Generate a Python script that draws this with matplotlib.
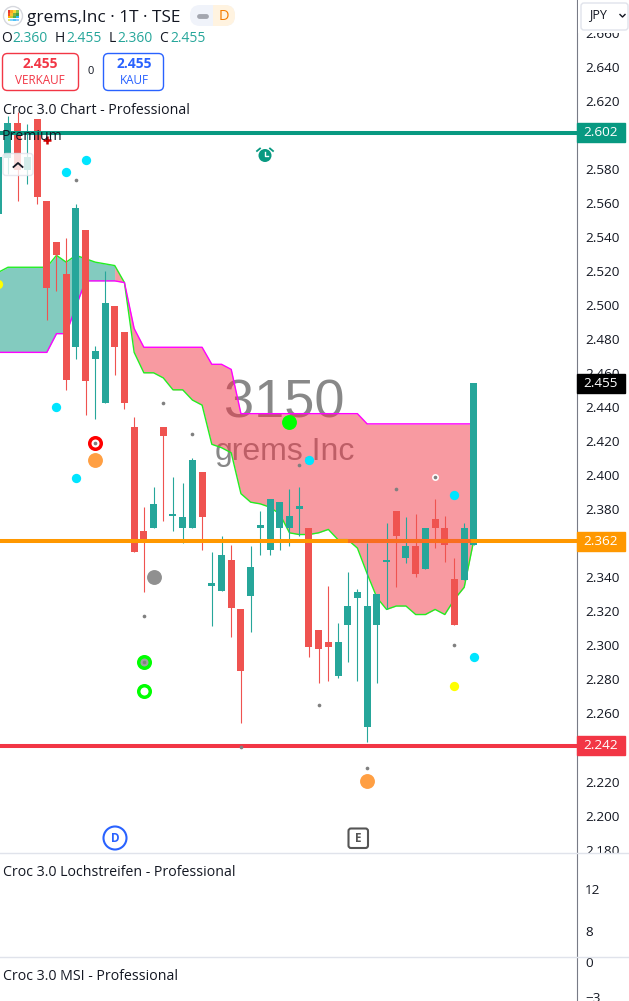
import numpy as np
import matplotlib
matplotlib.use('Agg')
import matplotlib.pyplot as plt
from matplotlib.patches import FancyBboxPatch, Rectangle, Circle
from matplotlib.transforms import blended_transform_factory

plt.rcParams['font.family'] = ['Open Sans', 'DejaVu Sans']

#candles, first one is cut by the left edge
bars = np.arange(-1, 49)
opens = [2.554, 2.587, 2.608, 2.580, 2.610, 2.562, 2.538, 2.519, 2.476, 2.545, 2.469, 2.443, 2.500, 2.485, 2.429, 2.368, 2.370,
         2.429, 2.377, 2.370, 2.370, 2.403, 2.336, 2.333, 2.351, 2.322, 2.330, 2.370, 2.357, 2.370, 2.370, 2.381, 2.370,
         2.310, 2.303, 2.283, 2.313, 2.329, 2.253, 2.313, 2.350, 2.380, 2.352, 2.359, 2.346, 2.375, 2.370, 2.340, 2.339, 2.360]
highs = [2.588, 2.612, 2.614, 2.607, 2.610, 2.562, 2.538, 2.540, 2.560, 2.545, 2.477, 2.521, 2.500, 2.485, 2.435, 2.382, 2.394,
         2.429, 2.400, 2.396, 2.411, 2.403, 2.356, 2.365, 2.360, 2.322, 2.359, 2.380, 2.387, 2.385, 2.393, 2.394, 2.370,
         2.310, 2.336, 2.314, 2.344, 2.334, 2.361, 2.331, 2.373, 2.380, 2.376, 2.378, 2.370, 2.387, 2.377, 2.352, 2.373, 2.455]
lows = [2.554, 2.578, 2.562, 2.572, 2.560, 2.492, 2.509, 2.451, 2.469, 2.436, 2.434, 2.443, 2.460, 2.440, 2.356, 2.332, 2.370,
        2.374, 2.368, 2.361, 2.370, 2.357, 2.312, 2.333, 2.306, 2.255, 2.309, 2.354, 2.354, 2.357, 2.359, 2.365, 2.294,
        2.279, 2.280, 2.282, 2.291, 2.280, 2.244, 2.279, 2.322, 2.335, 2.349, 2.341, 2.346, 2.358, 2.350, 2.313, 2.339, 2.360]
closes = [2.588, 2.608, 2.580, 2.588, 2.564, 2.511, 2.530, 2.457, 2.558, 2.456, 2.474, 2.502, 2.476, 2.443, 2.356, 2.363, 2.384,
          2.424, 2.377, 2.376, 2.410, 2.376, 2.336, 2.354, 2.323, 2.286, 2.347, 2.370, 2.387, 2.385, 2.377, 2.383, 2.300,
          2.299, 2.300, 2.303, 2.324, 2.332, 2.324, 2.331, 2.350, 2.365, 2.359, 2.343, 2.370, 2.370, 2.360, 2.313, 2.370, 2.455]
# dojis that are drawn green
doji_up = [21, 26, 39, 17]

#cloud
green_line = [2.520, 2.523, 2.523, 2.523, 2.523, 2.523, 2.530, 2.526, 2.530, 2.528, 2.526, 2.525, 2.524, 2.514, 2.473, 2.461, 2.461,
              2.458, 2.451, 2.451, 2.445, 2.442, 2.419, 2.417, 2.414, 2.390, 2.385, 2.384, 2.382, 2.378, 2.367, 2.366, 2.366,
              2.367, 2.369, 2.363, 2.363, 2.358, 2.343, 2.329, 2.322, 2.324, 2.324, 2.319, 2.319, 2.322, 2.319, 2.328, 2.335, 2.363]
magenta_line = [2.473, 2.473, 2.473, 2.473, 2.473, 2.473, 2.484, 2.484, 2.500, 2.515, 2.515, 2.515, 2.515, 2.514, 2.487, 2.476, 2.476,
                2.476, 2.476, 2.476, 2.476, 2.476, 2.466, 2.466, 2.463, 2.437, 2.437, 2.437, 2.437, 2.437, 2.437, 2.437, 2.437,
                2.437, 2.437, 2.437, 2.437, 2.437, 2.431, 2.431, 2.431, 2.431, 2.431, 2.431, 2.431, 2.431, 2.431, 2.431, 2.431, 2.431]

#levels
level_values = [2.602, 2.362, 2.242]
level_labels = ['2.602', '2.362', '2.242']
level_colors = ['#089981', '#FF9800', '#F23645']
last_price = 2.455

#signal dots (bar, price)
cyan_x = [8, 6, 5, 7, 31, 46, 48]
cyan_y = [2.586, 2.579, 2.441, 2.399, 2.410, 2.389, 2.294]
yellow_x = [-1, 46]
yellow_y = [2.513, 2.277]
orange_x = [9, 37]
orange_y = [2.410, 2.221]
tiny_x = [7, 16, 19, 9, 14, 24, 30, 40, 32, 37, 46, 44, 14]
tiny_y = [2.574, 2.443, 2.425, 2.420, 2.318, 2.241, 2.407, 2.393, 2.266, 2.229, 2.301, 2.400, 2.291]

price_ticks = np.arange(2.18, 2.67, 0.02)
# these three sit right behind the level tags
hidden_ticks = ['2.600', '2.360', '2.240']
pane1_ticks = [12, 8]
pane2_ticks = [0, -3]

fig = plt.figure(figsize=(6.29, 10.01), dpi=100, facecolor='white')
W, H = 629, 1001

#----------------------------------------------------------------------
# main pane
ax = fig.add_axes([0, (H - 852) / H, 577 / W, 852 / H], zorder=1)
ax.set_xlim(-0.82, 58.62)
ax.set_ylim(2.1795, 2.680)
for s in ['top', 'left', 'bottom']:
    ax.spines[s].set_visible(False)
ax.spines['right'].set_color('#787B86')
ax.set_xticks([])
ax.yaxis.tick_right()
ax.set_yticks(price_ticks)
tick_text = ['%.3f' % t for t in price_ticks]
ax.set_yticklabels(['' if t in hidden_ticks else t for t in tick_text])
ax.tick_params(axis='y', length=0, pad=5.8, labelsize=9.7, labelcolor='#131722')
for lab in ax.get_yticklabels():
    lab.set_verticalalignment('center')

# watermark sits under the cloud
ax.text(0.492, 0.526, '3150', transform=ax.transAxes, ha='center', va='center', fontsize=39,
        family='Liberation Sans', color='#888888', zorder=1)
ax.text(0.493, 0.4695, 'grems,Inc', transform=ax.transAxes, ha='center', va='center', fontsize=23,
        family='Liberation Sans', color='#888888', zorder=1)

green_arr = np.array(green_line)
mag_arr = np.array(magenta_line)
ax.fill_between(bars, green_arr, mag_arr, where=bars <= 11, color='#089981', alpha=0.5, lw=0, zorder=2)
ax.fill_between(bars, green_arr, mag_arr, where=bars >= 11, color='#F23645', alpha=0.5, lw=0, zorder=2)
ax.plot(bars, green_arr, color='#22EE22', lw=1.0, zorder=2.2)
ax.plot(bars, mag_arr, color='#FF00FF', lw=1.0, zorder=2.2)

# candles
o = np.array(opens)
c = np.array(closes)
up = (c > o) | np.isin(bars, doji_up)
colors = np.where(up, '#26A69A', '#EF5350')
ax.vlines(bars, lows, highs, colors=colors, lw=0.8, zorder=3)
body_h = np.maximum(np.abs(c - o), 0.0013)
ax.bar(bars, body_h, bottom=np.minimum(o, c), width=0.72, color=colors, lw=0, zorder=3.1)

# horizontal levels, over the candles
for v, col in zip(level_values, level_colors):
    ax.axhline(v, color=col, lw=2.9, zorder=3.5)
# orange level is darker where it runs inside the cloud
inside = np.where(green_arr < level_values[1])[0]
ax.hlines(level_values[1], bars[inside[0] - 1], bars[inside[-1]] + 0.7, color='#F86E20', lw=2.9, zorder=3.6)

# dots
ax.scatter(cyan_x, cyan_y, s=45, color='#00E5FF', lw=0, zorder=4)
ax.scatter(yellow_x, yellow_y, s=45, color='#FFFF00', lw=0, zorder=4)
ax.scatter(orange_x, orange_y, s=115, color='#FF9F43', lw=0, zorder=4)
ax.scatter([15], [2.341], s=115, color='#909090', lw=0, zorder=4)
ax.scatter([29], [2.432], s=115, color='#00FF00', lw=0, zorder=4)
ax.scatter([9], [2.420], s=69, facecolor='white', edgecolor='#FF0000', lw=2.5, zorder=4)
ax.scatter([14], [2.291], s=69, facecolor='#A0A0A0', edgecolor='#00FF00', lw=2.5, zorder=4)
ax.scatter([14], [2.274], s=69, facecolor='white', edgecolor='#00FF00', lw=2.5, zorder=4)
ax.scatter([44], [2.400], s=25, color='white', lw=0, zorder=4)
ax.scatter(tiny_x, tiny_y, s=7, color='#808080', lw=0, zorder=4.1)
ax.scatter([4], [2.598], s=28, marker='+', color='#CC0000', lw=1.8, zorder=4)

# price tags on the axis
trans = blended_transform_factory(ax.transAxes, ax.transData)
tag_w = 48 / 577
tag_h = 19 * 0.000587
for v, lab, col in zip(level_values + [last_price], level_labels + ['2.455'], level_colors + ['#000000']):
    ax.add_patch(Rectangle((1.0, v - tag_h / 2), tag_w, tag_h, transform=trans, color=col, clip_on=False, zorder=5))
    ax.text(1.0 + tag_w / 2, v, lab, transform=trans, ha='center', va='center', color='white', fontsize=9.7,
            clip_on=False, zorder=6)

#----------------------------------------------------------------------
# white strip under the main pane, hides the cut 2.180 label
cover = fig.add_axes([0, 0, 1, (H - 853) / H], zorder=2)
cover.set_xticks([])
cover.set_yticks([])
for s in cover.spines.values():
    s.set_visible(False)

# lower panes
pane1 = fig.add_axes([0, (H - 956) / H, 577 / W, 103 / H], zorder=3)
pane1.set_ylim(5.62, 15.43)
pane2 = fig.add_axes([0, 0, 577 / W, 44 / H], zorder=3)
pane2.set_ylim(-3.34, 0.43)
for p, t in zip([pane1, pane2], [pane1_ticks, pane2_ticks]):
    p.set_xticks([])
    p.yaxis.tick_right()
    p.set_yticks(t)
    p.tick_params(axis='y', length=0, pad=5.8, labelsize=9.7, labelcolor='#131722')
    p.spines['left'].set_visible(False)
    p.spines['bottom'].set_visible(False)
    p.spines['top'].set_visible(False)
    p.spines['right'].set_color('#787B86')

#----------------------------------------------------------------------
# everything from the chart's interface, in pixels
ui = fig.add_axes([0, 0, 1, 1], zorder=10)
ui.set_xlim(0, W)
ui.set_ylim(H, 0)
ui.axis('off')

# pane separators
ui.plot([0, W], [852.5, 852.5], color='#E0E3EB', lw=1)
ui.plot([0, W], [956.5, 956.5], color='#E0E3EB', lw=1)

# logo
ui.add_patch(Circle((13, 16), 9.5, facecolor='white', edgecolor='#D6D8DE', lw=1))
logo_cols = ['#E53935', '#F9A825', '#FDD835', '#8BC34A', '#F4511E', '#FBC02D', '#7CB342', '#43A047',
             '#FFB300', '#C0CA33', '#4CAF50', '#29B6F6', '#DCE775', '#81D4FA', '#4FC3F7', '#90CAF9']
for k, col in enumerate(logo_cols):
    ui.add_patch(Rectangle((7.5 + (k % 4) * 2.9, 10 + (k // 4) * 2.9), 2.7, 2.7, color=col, lw=0))

ui.text(27, 17.5, 'grems,Inc · 1T · TSE', fontsize=12.4, color='#131722', va='center', ha='left', fontweight='medium')

# delay pill
pill = FancyBboxPatch((190, 5), 45, 21, boxstyle='round,pad=0,rounding_size=10', facecolor='#F0F3FA', edgecolor='none')
ui.add_patch(pill)
right_half = Rectangle((213, 5), 22, 21, facecolor='#FFF3E0', edgecolor='none')
ui.add_patch(right_half)
right_half.set_clip_path(pill)
ui.plot([199, 206], [16, 16], color='#A3A6AF', lw=3.5, solid_capstyle='round')
ui.text(223.5, 16, 'D', fontsize=10.5, color='#F57C00', ha='center', va='center', fontweight='medium')

# ohlc row
ohlc_x = [1, 55, 109, 159]
ohlc_names = ['O', 'H', 'L', 'C']
ohlc_vals = ['2.360', '2.455', '2.360', '2.455']
for x, n, v in zip(ohlc_x, ohlc_names, ohlc_vals):
    ui.text(x, 38.5, n, fontsize=10, color='#131722', va='center', ha='left')
    ui.text(x + (11 if n != 'L' else 8), 38.5, v, fontsize=10, color='#26A69A', va='center', ha='left')

# order buttons
ui.add_patch(FancyBboxPatch((2.5, 53.5), 76, 37, boxstyle='round,pad=0,rounding_size=5', facecolor='white',
                            edgecolor='#F23645', lw=1))
ui.text(40, 64, '2.455', fontsize=10, color='#F23645', ha='center', va='center', fontweight='bold')
ui.text(40, 80, 'VERKAUF', fontsize=8.5, color='#F23645', ha='center', va='center')
ui.text(91, 72, '0', fontsize=8, color='#131722', ha='center', va='center')
ui.add_patch(FancyBboxPatch((103.5, 53.5), 60, 37, boxstyle='round,pad=0,rounding_size=5', facecolor='white',
                            edgecolor='#2962FF', lw=1))
ui.text(134, 64, '2.455', fontsize=10, color='#2962FF', ha='center', va='center', fontweight='bold')
ui.text(134, 80, 'KAUF', fontsize=8.5, color='#2962FF', ha='center', va='center')

# indicator titles
ui.text(3, 110, 'Croc 3.0 Chart - Professional', fontsize=10.2, color='#131722', va='center', ha='left')
ui.text(2, 137, 'Premium', fontsize=10.2, color='#131722', va='center', ha='left')
ui.text(3, 873, 'Croc 3.0 Lochstreifen - Professional', fontsize=10.2, color='#131722', va='center', ha='left')
ui.text(3, 977, 'Croc 3.0 MSI - Professional', fontsize=10.2, color='#131722', va='center', ha='left')

# collapse button
ui.add_patch(FancyBboxPatch((3, 153.5), 30, 22, boxstyle='round,pad=0,rounding_size=3', facecolor='white',
                            edgecolor='#E0E3EB', lw=1, alpha=0.8))
ui.plot([13.5, 18, 22.5], [167, 163, 167], color='#131722', lw=1.3)

# currency box, the white strip under it cuts the 2.660 label
ui.add_patch(Rectangle((578, 0), 51, 33, facecolor='white', edgecolor='none'))
ui.add_patch(FancyBboxPatch((581, 3), 47, 27, boxstyle='round,pad=0,rounding_size=3', facecolor='white',
                            edgecolor='#E0E3EB', lw=1))
ui.text(598, 15, 'JPY', fontsize=9, color='#131722', ha='center', va='center')
ui.plot([620, 622.5, 625], [14.5, 17, 14.5], color='#131722', lw=1)

# alarm icon
ui.add_patch(Circle((265, 155.5), 6.5, color='#089981', lw=0))
ui.plot([265, 265, 268], [151.5, 156, 156], color='white', lw=1)
ui.plot([257, 260], [151, 148.5], color='#089981', lw=1.3)
ui.plot([270, 273], [148.5, 151], color='#089981', lw=1.3)

# dividend and earnings flags
ui.add_patch(Circle((115, 838), 11.5, facecolor='white', edgecolor='#2962FF', lw=1.5))
ui.text(115, 838, 'D', fontsize=8.5, color='#2962FF', ha='center', va='center', fontweight='bold')
ui.add_patch(FancyBboxPatch((348.5, 828.5), 19.5, 19.5, boxstyle='round,pad=0,rounding_size=2.5', facecolor='white',
                            edgecolor='#555555', lw=1.5))
ui.text(358, 838, 'E', fontsize=8.5, color='#555555', ha='center', va='center', fontweight='bold')

fig.savefig('out.png', dpi=100)
